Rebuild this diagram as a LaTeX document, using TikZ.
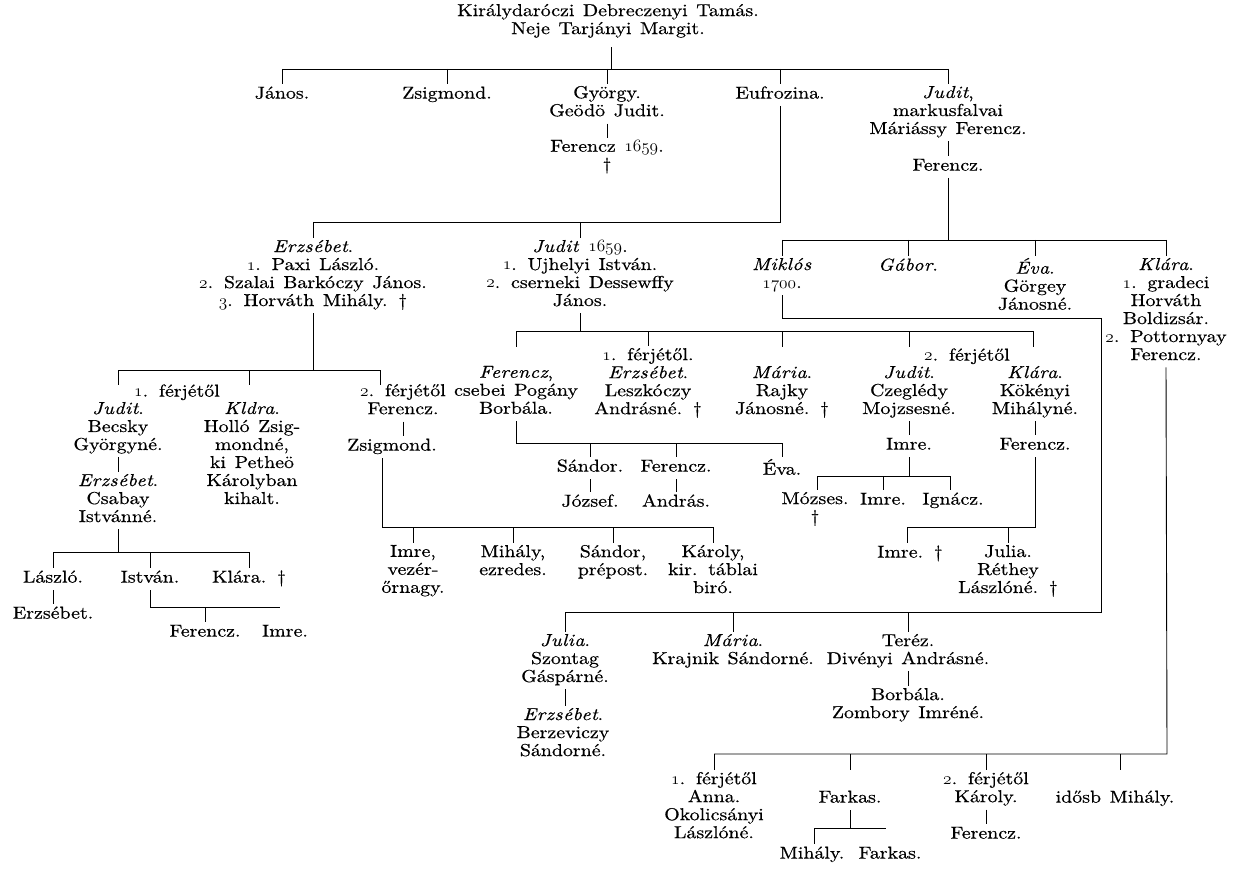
\documentclass[tikz,border=0pt]{standalone}
\usepackage{fontspec}
\setmainfont{lmroman10}[Extension=.otf, UprightFont=*-regular, ItalicFont=*-italic, BoldFont=*-bold, BoldItalicFont=*-bolditalic, FakeStretch=1.15, WordSpace=1.3, FakeBold=0.5]
\usetikzlibrary{calc}
\newcommand{\osn}[1]{{\fontsize{17.28}{18}\usefont{OML}{cmm}{m}{it}#1}}
\newcommand{\nm}[1]{\textit{\addfontfeature{LetterSpace=3}#1}}
\begin{document}
\begin{tikzpicture}[x=1pt,y=-1pt,
  pn/.style={inner sep=0pt, outer sep=2pt, align=center, anchor=north,
    font=\fontsize{17.28}{18}\selectfont,
    execute at begin node=\strut, execute at end node=\strut},
  ln/.style={line width=0.9pt}]
\useasboundingbox[fill=white] (0,0) rectangle (1233,874);

% ---------- generation 0 ----------
\node[pn] (T) at (608,2) {Királydaróczi Debreczenyi Tamás.\\Neje Tarjányi Margit.};
\coordinate (b0l) at (282,69);
\coordinate (b0r) at (948,69);
\draw[ln] ($(T.south)+(3,6)$) -- ($(T.south |- b0l)+(3,0)$);
\draw[ln] (b0l) -- (b0r);

% ---------- generation 1 ----------
\node[pn] (Janos) at (282,84) {János.};
\node[pn] (Zsig0) at (447,84) {Zsigmond.};
\node[pn] (Gyorgy) at (607,84) {György.\\Geödö Judit.};
\node[pn] (Eufr) at (780,84) {Eufrozina.};
\node[pn] (Judit0) at (948,84) {\nm{Judit},\\markusfalvai\\Máriássy Ferencz.};
\foreach \n in {Janos,Zsig0,Gyorgy,Eufr,Judit0}
  \draw[ln] (\n.north |- b0l) -- (\n.north);

\node[pn] (Fer1659) at (607,138) {Ferencz \osn{1659}.\\†};
\draw[ln] (Gyorgy.south) -- (Fer1659.north);
\node[pn] (FerM) at (948,156) {Ferencz.};
\draw[ln] (Judit0.south) -- (FerM.north);

% ---------- Eufrozina's children ----------
\coordinate (b1l) at (313,222);
\coordinate (b1r) at (780,222);
\draw[ln] (Eufr.south) -- (b1r) -- (b1l);
\node[pn] (Erzs) at (313,238) {\nm{Erzsébet}.\\\osn{1}. Paxi László.\\\osn{2}. Szalai Barkóczy János.\\\osn{3}. Horváth Mihály. †};
\node[pn] (Jud59) at (580,238) {\nm{Judit} \osn{1659}.\\\osn{1}. Ujhelyi István.\\\osn{2}. cserneki Dessewffy\\János.};
\draw[ln] (b1l) -- (Erzs.north);
\draw[ln] (Jud59.north |- b1l) -- (Jud59.north);

% ---------- Ferencz (Máriássy) children ----------
\coordinate (b1bl) at (782,240);
\coordinate (b1br) at (1167,240);
\draw[ln] (FerM.south) -- (FerM.south |- b1bl);
\draw[ln] (b1bl) -- (b1br);
\node[pn] (Miklos) at (782,256) {\nm{Miklós}\\\osn{1700}.};
\node[pn] (Gabor) at (908,256) {\nm{Gábor}.};
\node[pn] (Eva) at (1035,256) {\nm{Éva}.\\Görgey\\Jánosné.};
\node[pn] (KlaraP) at (1166,256) {\nm{Klára}.\\\osn{1}. gradeci\\Horváth\\Boldizsár.\\\osn{2}. Pottornyay\\Ferencz.};
\foreach \n in {Miklos,Gabor,Eva,KlaraP}
  \draw[ln] (\n.north |- b1bl) -- (\n.north);

% ---------- Miklós box ----------
\coordinate (bx1) at (782,318);
\coordinate (bx2) at (1101,318);
\coordinate (bx3) at (1101,612);
\coordinate (bx4) at (565,612);
\draw[ln] (Miklos.south) -- (bx1) -- (bx2) -- (bx3) -- (bx4);
\node[pn] (JuliaS) at (565,632) {\nm{Julia}.\\Szontag\\Gáspárné.};
\node[pn] (MariaK) at (733,632) {\nm{Mária}.\\Krajnik Sándorné.};
\node[pn] (Terez) at (908,632) {Teréz.\\Divényi Andrásné.};
\foreach \n in {JuliaS,MariaK,Terez}
  \draw[ln] (\n.north |- bx4) -- (\n.north);
\node[pn] (ErzsB) at (563,706) {\nm{Erzsébet}.\\Berzeviczy\\Sándorné.};
\draw[ln] (JuliaS.south) -- (JuliaS.south |- ErzsB.north);
\node[pn] (Borbala) at (908,686) {Borbála.\\Zombory Imréné.};
\draw[ln] (Terez.south) -- (Terez.south |- Borbala.north);

% ---------- Klára (Pottornyay) children ----------
\coordinate (b9l) at (714,754);
\coordinate (b9r) at (1167,754);
\draw[ln] (KlaraP.south) -- (b9r) -- (b9l);
\node[pn] (Anna) at (714,770) {\osn{1}. férjétől\\Anna.\\Okolicsányi\\Lászlóné.};
\node[pn] (Farkas) at (850,788) {Farkas.};
\node[pn] (KarolyP) at (986,770) {\osn{2}. férjétől\\Károly.};
\node[pn] (Idosb) at (1115,788) {idősb Mihály.};
\draw[ln] (b9l) -- (Anna.north);
\draw[ln] (Farkas.north |- b9l) -- ++(0,16);
\draw[ln] (KarolyP.north |- b9l) -- (KarolyP.north);
\draw[ln] ($(Idosb.north |- b9l)+(5,0)$) -- ++(0,16);
\node[pn] (FerP2) at (986,824) {Ferencz.};
\draw[ln] (KarolyP.south) -- (FerP2.north);
\coordinate (b10l) at (814,828);
\coordinate (b10r) at (886,828);
\draw[ln] (Farkas.south) -- (Farkas.south |- b10l);
\draw[ln] (b10l) -- (b10r);
\node[pn] (MihalyF) at (812,844) {Mihály.};
\node[pn] (FarkasF) at (890,844) {Farkas.};
\draw[ln] (b10l) -- (b10l |- MihalyF.north);

% ---------- Judit 1659 children ----------
\coordinate (b2l) at (516,331);
\coordinate (b2r) at (1033,331);
\draw[ln] (Jud59.south) -- (Jud59.south |- b2l);
\draw[ln] (b2l) -- (b2r);
\node[pn] (FerP) at (516,364) {\nm{Ferencz},\\csebei Pogány\\Borbála.};
\node[pn] (ErzsL) at (648,346) {\osn{1}. férjétől.\\\nm{Erzsébet}.\\Leszkóczy\\Andrásné. †};
\node[pn] (Maria) at (782,364) {\nm{Mária}.\\Rajky\\Jánosné. †};
\node[pn] (Ferj2) at (967,346) {\osn{2}. férjétől};
\node[pn] (JuditC) at (909,364) {\nm{Judit}.\\Czeglédy\\Mojzsesné.};
\node[pn] (KlaraK) at (1035,364) {\nm{Klára}.\\Kökényi\\Mihályné.};
\draw[ln] (b2l) -- ++(0,16);
\draw[ln] (ErzsL.north |- b2l) -- (ErzsL.north);
\draw[ln] (Maria.north |- b2l) -- ++(0,16);
\draw[ln] (JuditC.north |- b2l) -- ++(0,16);
\draw[ln] (b2r) -- ++(0,16);

% Ferencz (Pogány) children
\coordinate (b3r) at (782,443);
\draw[ln] (FerP.south) -- (FerP.south |- b3r) -- (b3r);
\node[pn] (SandorA) at (590,457) {Sándor.};
\node[pn] (FerA) at (676,457) {Ferencz.};
\node[pn] (EvaA) at (782,457) {Éva.};
\foreach \n in {SandorA,FerA,EvaA}
  \draw[ln] (\n.north |- b3r) -- (\n.north);
\node[pn] (Jozsef) at (590,492) {József.};
\node[pn] (Andras) at (676,492) {András.};
\draw[ln] (SandorA.south) -- (Jozsef.north);
\draw[ln] (FerA.south) -- (Andras.north);

% Judit (Czeglédy) descendants
\node[pn] (ImreC) at (909,435) {Imre.};
\draw[ln] (JuditC.south) -- (ImreC.north);
\coordinate (b4l) at (817,476);
\coordinate (b4r) at (950,476);
\draw[ln] (ImreC.south) -- (ImreC.south |- b4l);
\draw[ln] (b4l) -- (b4r);
\node[pn] (Mozses) at (815,490) {Mózses.\\†};
\node[pn] (ImreC2) at (883,490) {Imre.};
\node[pn] (Ignacz) at (953,490) {Ignácz.};
\draw[ln] (b4l) -- (b4l |- Mozses.north);
\draw[ln] (ImreC2.north |- b4l) -- (ImreC2.north);
\draw[ln] (b4r) -- (b4r |- Ignacz.north);

% Klára (Kökényi) descendants
\node[pn] (FerK) at (1035,435) {Ferencz.};
\draw[ln] (KlaraK.south) -- (FerK.north);
\coordinate (b5l) at (907,527);
\draw[ln] (FerK.south) -- (FerK.south |- b5l) -- (b5l);
\node[pn] (ImreK) at (910,543) {Imre. †};
\node[pn] (JuliaR) at (1008,543) {Julia.\\Réthey\\Lászlóné. †};
\draw[ln] (b5l) -- (b5l |- ImreK.north);
\draw[ln] (JuliaR.north |- b5l) -- (JuliaR.north);

% ---------- Erzsébet (Paxi) children ----------
\coordinate (b6l) at (118,370);
\coordinate (b6m) at (249,370);
\coordinate (b6r) at (380,370);
\draw[ln] (Erzs.south) -- (Erzs.south |- b6l);
\draw[ln] (b6l) -- (b6r);
\draw[ln] (b6l) -- ++(0,15);
\draw[ln] (b6m) -- ++(0,15);
\draw[ln] (b6r) -- ++(0,15);
\node[pn] (Ferj1) at (177,382) {\osn{1}. férjétől};
\node[pn] (JuditBe) at (118,400) {\nm{Judit}.\\Becsky\\Györgyné.};
\node[pn] (KlaraH) at (252,400) {\nm{Kldra}.\\Holló Zsig-\\mondné,\\ki Petheö\\Károlyban\\kihalt.};
\node[pn] (Fer2) at (403,382) {\osn{2}. férjétől\\Ferencz.};
\node[pn] (Zsig1) at (392,436) {Zsigmond.};
\draw[ln] (Fer2.south) -- (Fer2.south |- Zsig1.north);

% Zsigmond's children
\coordinate (b7l) at (382,527);
\coordinate (b7r) at (713,527);
\draw[ln] ($(Zsig1.south)+(-10,0)$) -- (b7l) -- (b7r);
\node[pn] (ImreZ) at (413,543) {Imre,\\vezér-\\őrnagy.};
\node[pn] (MihalyZ) at (513,543) {Mihály,\\ezredes.};
\node[pn] (SandorZ) at (613,543) {Sándor,\\prépost.};
\node[pn] (KarolyZ) at (713,543) {Károly,\\kir. táblai\\biró.};
\foreach \n in {ImreZ,MihalyZ,SandorZ,KarolyZ}
  \draw[ln] (\n.north |- b7l) -- (\n.north);

% Judit (Becsky) descendants
\node[pn] (ErzsC) at (118,472) {\nm{Erzsébet}.\\Csabay\\Istvánné.};
\draw[ln] (JuditBe.south) -- (ErzsC.north);
\coordinate (b8l) at (53,552);
\coordinate (b8r) at (249,552);
\draw[ln] (ErzsC.south) -- (ErzsC.south |- b8l);
\draw[ln] (b8l) -- (b8r);
\node[pn] (Laszlo) at (53,568) {László.};
\node[pn] (Istvan) at (150,568) {István.};
\node[pn] (KlaraD) at (249,568) {Klára. †};
\draw[ln] (b8l) -- (Laszlo.north);
\draw[ln] (Istvan.north |- b8l) -- (Istvan.north);
\draw[ln] (b8r) -- (KlaraD.north);
\node[pn] (ErzsLa) at (53,604) {Erzsébet.};
\draw[ln] (Laszlo.south) -- (ErzsLa.north);
\coordinate (b11r) at (280,607);
\draw[ln] (Istvan.south) -- (Istvan.south |- b11r) -- (b11r);
\node[pn] (FerI) at (205,622) {Ferencz.};
\node[pn] (ImreI) at (285,622) {Imre.};
\draw[ln] (FerI.north |- b11r) -- (FerI.north);

\end{tikzpicture}
\end{document}
